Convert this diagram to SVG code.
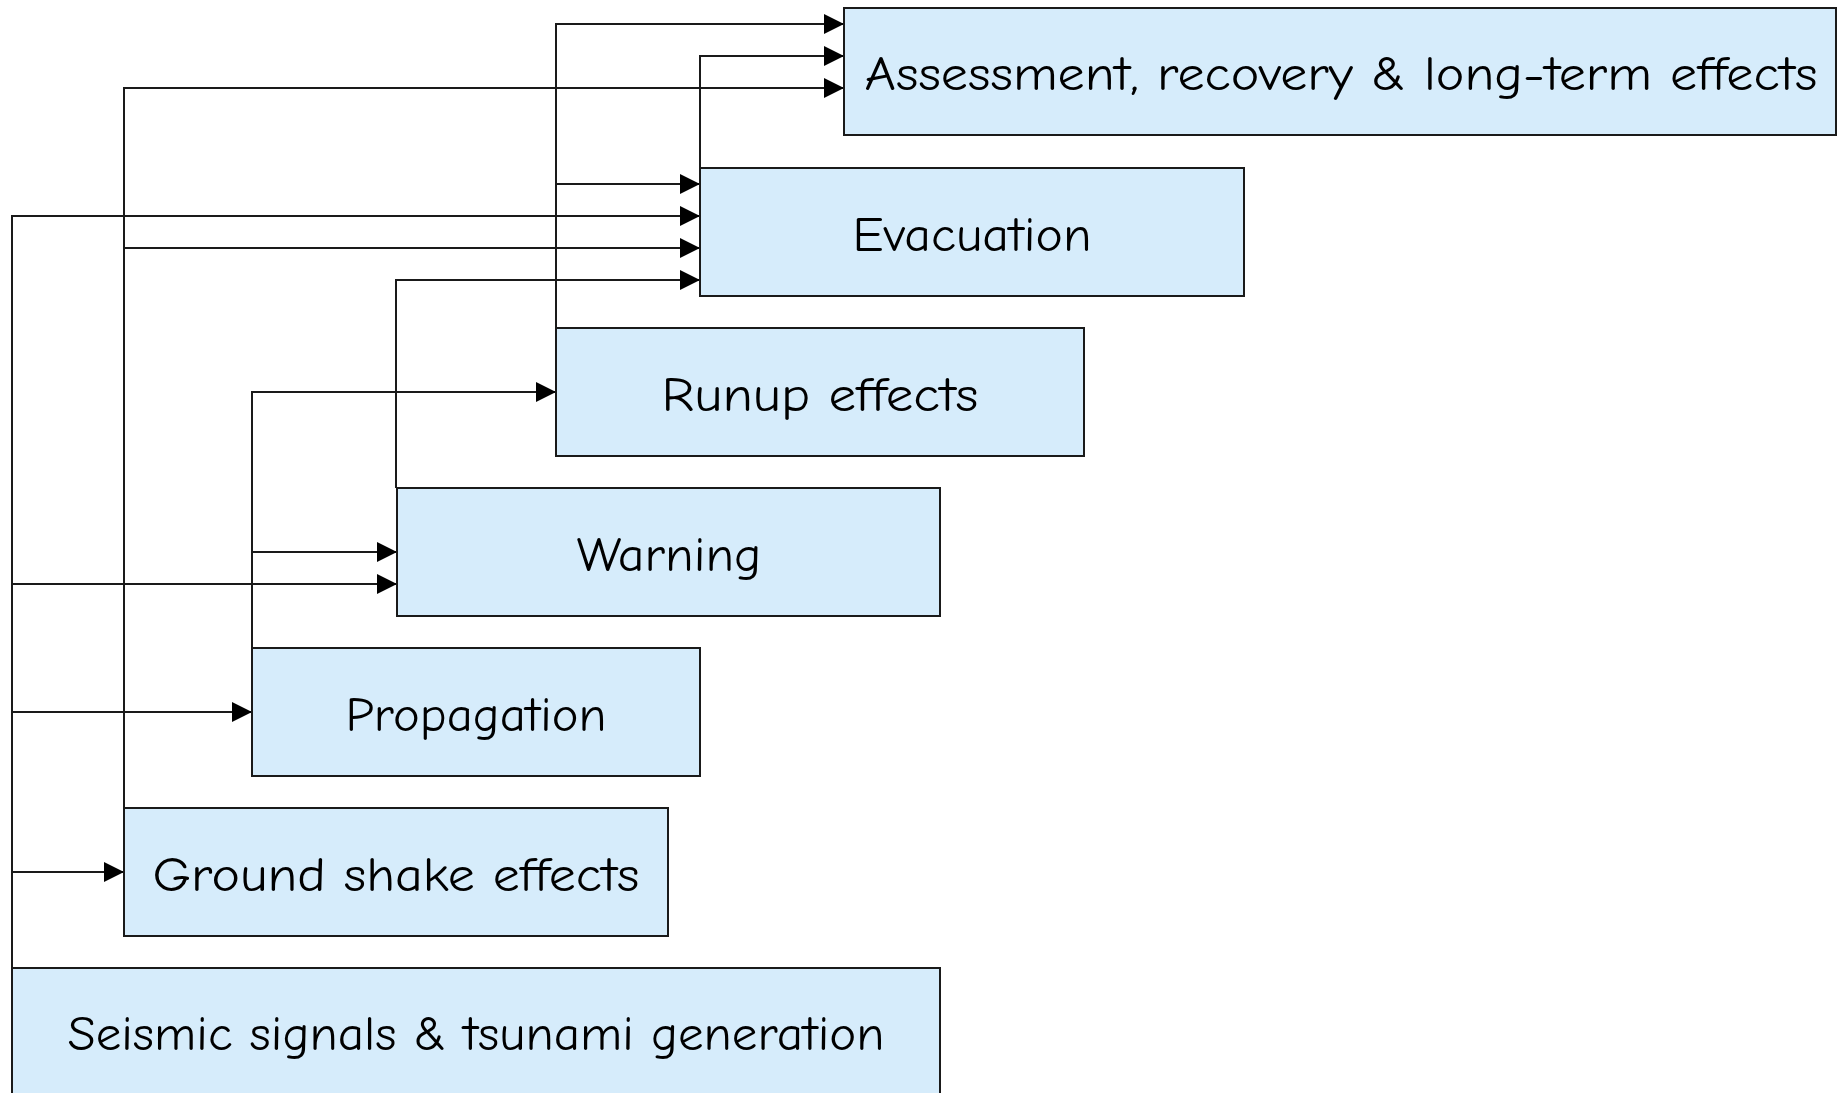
<svg xmlns="http://www.w3.org/2000/svg" width="1845" height="1093" viewBox="0 0 1845 1093">
<style>
.box{fill:#d6ecfb;stroke:#1a1a1a;stroke-width:2}
.lbl{font-family:"Comic Sans MS","Comic Neue","Liberation Sans",sans-serif;font-size:48px;fill:#000;text-anchor:middle}
.con{fill:none;stroke:#1a1a1a;stroke-width:2}
</style>
<defs>
<marker id="arr" markerUnits="userSpaceOnUse" markerWidth="20" markerHeight="20" viewBox="0 0 18 18" refX="18" refY="9" orient="auto">
<path d="M0,0 L18,9 L0,18 Z" fill="#000"/>
</marker>
</defs>
<rect width="1845" height="1093" fill="#fff"/>
<g id="connectors">
<path class="con" d="M556,328 V24 H844" marker-end="url(#arr)"/>
<path class="con" d="M556,184 H700" marker-end="url(#arr)"/>
<path class="con" d="M700,168 V56 H844" marker-end="url(#arr)"/>
<path class="con" d="M124,808 V88 H844" marker-end="url(#arr)"/>
<path class="con" d="M124,248 H700" marker-end="url(#arr)"/>
<path class="con" d="M12,968 V216 H700" marker-end="url(#arr)"/>
<path class="con" d="M12,584 H397" marker-end="url(#arr)"/>
<path class="con" d="M12,712 H252" marker-end="url(#arr)"/>
<path class="con" d="M12,872 H124" marker-end="url(#arr)"/>
<path class="con" d="M396,488 V280 H700" marker-end="url(#arr)"/>
<path class="con" d="M252,648 V392 H556" marker-end="url(#arr)"/>
<path class="con" d="M252,552 H397" marker-end="url(#arr)"/>
</g>
<g id="node-assessment">
<rect class="box" x="844" y="8" width="992" height="127"/>
<text class="lbl" x="1341" y="90" textLength="953" lengthAdjust="spacingAndGlyphs">Assessment, recovery &amp; long-term effects</text>
</g>
<g id="node-evacuation">
<rect class="box" x="700" y="168" width="544" height="128"/>
<text class="lbl" x="972" y="251" textLength="239" lengthAdjust="spacingAndGlyphs">Evacuation</text>
</g>
<g id="node-runup">
<rect class="box" x="556" y="328" width="528" height="128"/>
<text class="lbl" x="820" y="411" textLength="317" lengthAdjust="spacingAndGlyphs">Runup effects</text>
</g>
<g id="node-warning">
<rect class="box" x="397" y="488" width="543" height="128"/>
<text class="lbl" x="669" y="571" textLength="185" lengthAdjust="spacingAndGlyphs">Warning</text>
</g>
<g id="node-propagation">
<rect class="box" x="252" y="648" width="448" height="128"/>
<text class="lbl" x="476" y="731" textLength="261" lengthAdjust="spacingAndGlyphs">Propagation</text>
</g>
<g id="node-groundshake">
<rect class="box" x="124" y="808" width="544" height="128"/>
<text class="lbl" x="396" y="891" textLength="487" lengthAdjust="spacingAndGlyphs">Ground shake effects</text>
</g>
<g id="node-seismic">
<rect class="box" x="12" y="968" width="928" height="130"/>
<text class="lbl" x="476" y="1050" textLength="817" lengthAdjust="spacingAndGlyphs">Seismic signals &amp; tsunami generation</text>
</g>
</svg>
